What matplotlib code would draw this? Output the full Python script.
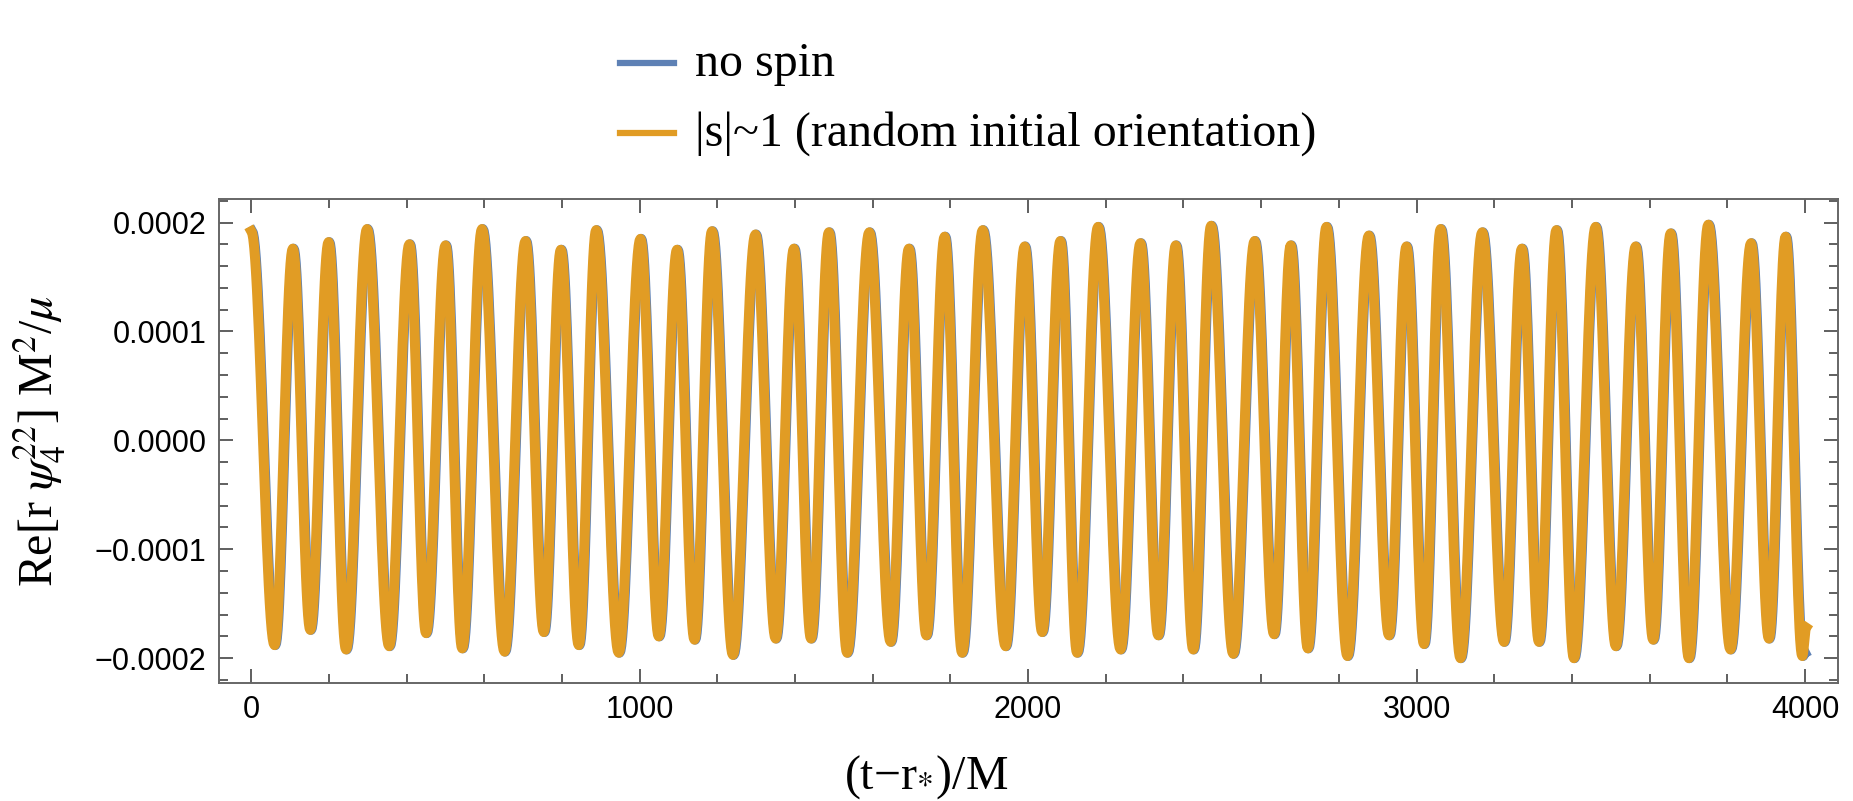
import numpy as np
import matplotlib
matplotlib.use('Agg')
import matplotlib.pyplot as plt
from matplotlib.lines import Line2D
from matplotlib.ticker import FixedLocator, FixedFormatter, MultipleLocator

plt.rcParams['mathtext.fontset'] = 'stix'

# values in units of 1e-4, times in M
start_t, start_v = 0, 1.92
end_t, end_v = 4003, -1.72

trough_t = [60, 152, 244, 355, 450, 543, 652, 753, 843, 946,
            1049, 1141, 1240, 1350, 1441, 1534, 1646, 1738, 1830, 1942,
            2036, 2126, 2238, 2335, 2425, 2528, 2633, 2720, 2822, 2929,
            3019, 3113, 3225, 3315, 3405, 3513, 3609, 3701, 3808, 3907, 3993]
trough_v = [-1.88, -1.74, -1.92, -1.89, -1.77, -1.91, -1.94, -1.76, -1.88, -1.95,
            -1.80, -1.83, -1.97, -1.82, -1.82, -1.95, -1.85, -1.79, -1.95, -1.89,
            -1.76, -1.95, -1.92, -1.79, -1.92, -1.96, -1.78, -1.91, -1.98, -1.79,
            -1.87, -2.00, -1.85, -1.85, -2.00, -1.89, -1.83, -2.00, -1.92, -1.82, -1.98]

peak_t = [107, 199, 298, 407, 500, 594, 706, 797, 888, 1002,
          1096, 1186, 1298, 1397, 1487, 1591, 1693, 1785, 1883, 1991,
          2083, 2180, 2289, 2380, 2471, 2583, 2676, 2768, 2877, 2974,
          3062, 3169, 3271, 3360, 3461, 3564, 3654, 3751, 3861, 3950]
peak_v = [1.76, 1.82, 1.94, 1.80, 1.79, 1.94, 1.83, 1.75, 1.93, 1.85,
          1.75, 1.92, 1.89, 1.76, 1.91, 1.91, 1.76, 1.87, 1.93, 1.78,
          1.83, 1.96, 1.81, 1.79, 1.97, 1.83, 1.79, 1.96, 1.88, 1.78,
          1.94, 1.91, 1.76, 1.93, 1.96, 1.78, 1.90, 1.98, 1.81, 1.87]

nospin_lag = 2.0  # no-spin curve sits a hair later

labels = ['no spin', '|s|~1 (random initial orientation)']
colors = ['#5E81B5', '#E19C24']


def extrema(final_t, final_v):
    t = [start_t]
    v = [start_v]
    for i in range(len(trough_t)):
        t.append(trough_t[i]); v.append(trough_v[i])
        if i < len(peak_t):
            t.append(peak_t[i]); v.append(peak_v[i])
    t.append(final_t); v.append(final_v)
    return t, v


def wave(t, v):
    # smooth half-cosine shape between consecutive turning points
    xs, ys = [], []
    s = np.linspace(0, 1, 25)
    for i in range(len(t) - 1):
        xs.append(t[i] + (t[i + 1] - t[i]) * s)
        ys.append(v[i] + (v[i + 1] - v[i]) * (1 - np.cos(np.pi * s)) / 2)
    return np.concatenate(xs), np.concatenate(ys) * 1e-4


fig = plt.figure(figsize=(18.53, 8.01), dpi=100)
ax = fig.add_axes([219 / 1853, 1 - 683 / 801, (1838 - 219) / 1853, (683 - 199) / 801])

tb, vb = extrema(trough_t[-1] + 5, -1.95)
xb, yb = wave(tb, vb)
ax.plot(xb + nospin_lag, yb, color=colors[0], lw=7.2, solid_joinstyle='round')

to, vo = extrema(end_t, end_v)
xo, yo = wave(to, vo)
ax.plot(xo, yo, color=colors[1], lw=7.2, solid_joinstyle='round')

ax.set_xlim(-83, 4085)
ax.set_ylim(-0.0002228, 0.0002216)

ytick_vals = [-0.0002, -0.0001, 0.0, 0.0001, 0.0002]
ytick_labels = ['\u22120.0002', '\u22120.0001', '0.0000', '0.0001', '0.0002']
ax.yaxis.set_major_locator(FixedLocator(ytick_vals))
ax.yaxis.set_major_formatter(FixedFormatter(ytick_labels))
ax.yaxis.set_minor_locator(MultipleLocator(0.00002))
ax.xaxis.set_major_locator(MultipleLocator(1000))
ax.xaxis.set_minor_locator(MultipleLocator(200))

for sp in ax.spines.values():
    sp.set_color('#666666')
    sp.set_linewidth(1.4)
ax.tick_params(which='both', direction='in', top=True, right=True,
               color='#444444', width=1.2, labelsize=22, labelfontfamily='Liberation Sans')
ax.tick_params(which='major', length=10)
ax.tick_params(which='minor', length=6.5)
ax.tick_params(axis='y', which='major', pad=9)
ax.tick_params(axis='x', which='major', pad=9)

serif = ['Liberation Serif', 'DejaVu Serif', 'DejaVu Sans']

# axis labels
fig.text(40 / 1853, 1 - 441 / 801, r'Re[r $\psi_4^{22}$] M$^2$/$\mu$', rotation=90,
         ha='center', va='center', fontsize=34.5, family=serif)
fig.text(926 / 1853, 1 - 789 / 801, '(t\u2212r$_{*}$)/M', ha='center', va='baseline',
         fontsize=34.5, family=serif)

# legend above the frame
for i, yy in enumerate([63, 133]):
    fig.add_artist(Line2D([620 / 1853, 674 / 1853], [1 - yy / 801] * 2,
                          color=colors[i], lw=4.5, transform=fig.transFigure))
    fig.text(695 / 1853, 1 - (yy + 1) / 801, labels[i], ha='left', va='center',
             fontsize=34.5, family=serif)

fig.savefig('out.png', dpi=100)
